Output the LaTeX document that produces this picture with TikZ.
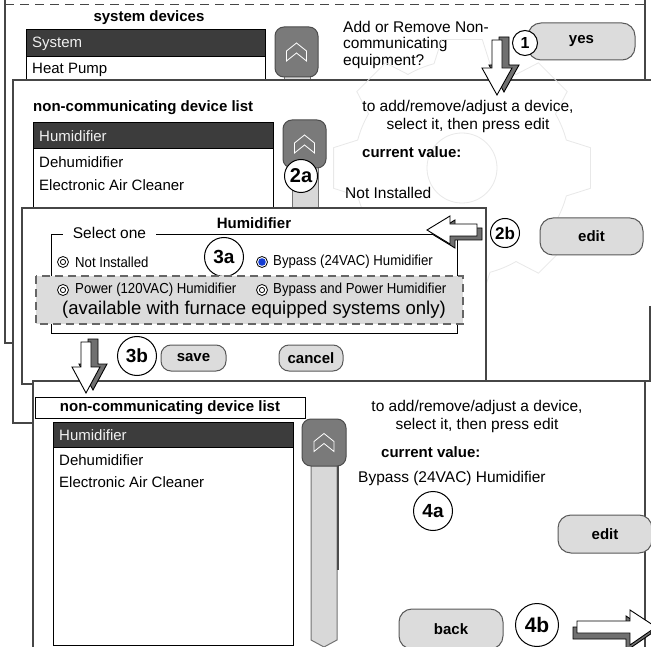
\documentclass[tikz,border=0pt]{standalone}
\usepackage{fontspec}
\setmainfont{Liberation Sans}
\newfontfamily\narrowsans{Liberation Sans}[FakeStretch=0.91]
\usepackage{tikz}
\usetikzlibrary{positioning, calc}
\definecolor{panelline}{RGB}{70,70,70}
\definecolor{selgray}{RGB}{60,60,60}
\definecolor{btngray}{RGB}{220,220,220}
\definecolor{scrollgray}{RGB}{122,122,122}
\definecolor{trackgray}{RGB}{216,216,216}
\definecolor{arrowside}{RGB}{112,112,112}
\definecolor{radioblue}{RGB}{20,60,210}

% white chevron on a scroll button
\newcommand{\upchevron}[1]{%
  \draw[chevron] ($(#1.center)+(-10,9)$) -- ++(0,-10) -- ++(10,-8) -- ++(10,8) -- ++(0,10) -- ++(-10,-8) -- cycle;}

\begin{document}
\begin{tikzpicture}[
    x=1pt, y=-1pt,
    panel/.style={draw=panelline, fill=white, line width=1.2pt},
    listbox/.style={draw=black, fill=white, line width=1pt},
    selrow/.style={draw=black, fill=selgray, line width=1pt},
    listitem/.style={anchor=west, inner sep=0pt, font=\fontsize{15}{17}\selectfont},
    selitem/.style={listitem, text=black!6},
    headtext/.style={inner sep=0pt, font=\fontsize{15}{17}\selectfont\bfseries},
    bodytext/.style={inner sep=0pt, font=\fontsize{15.5}{18}\selectfont},
    button/.style={draw=black!65, fill=btngray, rounded corners=13pt, line width=1pt, inner sep=0pt, font=\fontsize{15}{17}\selectfont\bfseries},
    badge/.style={circle, draw=black, fill=white, line width=1pt, inner sep=0pt},
    scrollbtn/.style={draw=black!70, fill=scrollgray, rounded corners=9pt, line width=1pt},
    chevron/.style={draw=white, line width=0.8pt},
    track/.style={draw=black!55, fill=trackgray, line width=1pt},
    blockface/.style={draw=black, fill=white, line width=0.9pt},
    blockside/.style={draw=black, fill=arrowside, line width=0.9pt},
    radio/.style={circle, draw=black, fill=white, line width=0.8pt, inner sep=0pt, minimum size=11pt},
    radiotext/.style={anchor=west, inner sep=0pt, font=\narrowsans\fontsize{14.5}{16}\selectfont},
    gearline/.style={draw=black!9, line width=0.8pt}
]
\path[use as bounding box] (0,0) rectangle (651,647);
\fill[white] (0,0) rectangle (651,647);
\clip (0,0) rectangle (651,647);

% system devices screen
\draw[panel] (5,-5) rectangle (645,343);
\draw[panelline, dashed, dash pattern=on 9pt off 6pt, line width=1pt] (5,5) -- (645,5);
\node[headtext] (sysdevtitle) at (149,18) {system devices};
\draw[listbox] (26,30) rectangle (265,110);
\draw[selrow] (26,30) rectangle (265,57);
\node[selitem] (sysitem) at (32,44) {System};
\node[listitem] (hpitem) at (32,70) {Heat Pump};
\draw[track] (284,70) rectangle (310,95);
\node[scrollbtn, minimum width=43pt, minimum height=50pt] (scrollA) at (296.5,52) {};
\upchevron{scrollA}
\node[bodytext, anchor=north west, align=left, font=\fontsize{15.5}{16.5}\selectfont] (addq) at (343,21) {Add or Remove Non-\\communicating\\equipment?};
\node[button, minimum width=107pt, minimum height=37pt] (yesbtn) at (581.5,41.5) {yes};
\node[badge, minimum size=25pt, font=\fontsize{16}{16}\selectfont\bfseries] (stepone) at (525,43) {1};

% device list screen
\fill[white] (13,80) rectangle (670,423);
\draw[panel] (670,80) -- (13,80) -- (13,423) -- (645,423);
\coordinate (gearc) at (462,168);
\foreach \a in {0,45,...,315}
  \draw[gearline] ($(gearc)+(\a-15:108)$) -- ($(gearc)+(\a-9:130)$) -- ($(gearc)+(\a+9:130)$) -- ($(gearc)+(\a+15:108)$) arc[start angle=\a+15, end angle=\a+30, radius=108];
\draw[gearline] (gearc) circle[radius=35];
\node[headtext, anchor=west] (ncdtitle) at (33,108) {non-communicating device list};
\draw[listbox] (33,123) rectangle (273,220);
\draw[selrow] (33,123) rectangle (273,149);
\node[selitem] (humitemA) at (39,136) {Humidifier};
\node[listitem] (dehumitemA) at (39,162) {Dehumidifier};
\node[listitem] (eacitemA) at (39,185) {Electronic Air Cleaner};
\draw[track] (292,160) rectangle (318,220);
\node[scrollbtn, minimum width=43pt, minimum height=48pt] (scrollB) at (304.5,144) {};
\upchevron{scrollB}
\node[badge, minimum size=33pt, font=\fontsize{20}{20}\selectfont\bfseries] (steptwoa) at (301,176) {2a};
\node[bodytext, align=center] (hintA) at (468,116) {to add/remove/adjust a device,\\select it, then press edit};
\node[headtext, anchor=west] (curA) at (362,152) {current value:};
\node[bodytext, anchor=west] (valA) at (345,193) {Not Installed};
\node[badge, minimum size=29pt, font=\fontsize{17}{17}\selectfont\bfseries] (steptwob) at (505,233) {2b};
\node[button, minimum width=103pt, minimum height=37pt] (editA) at (591.5,236.5) {edit};
\draw[panelline, line width=1.2pt] (650,306) -- (650,381) -- (645,381);

% humidifier dialog
\draw[panel] (22,208) rectangle (486,384);
\node[headtext] (humtitle) at (254,223) {Humidifier};
\draw[line width=1pt] (51,235) rectangle (457,333);
\node[bodytext, fill=white, inner xsep=10pt, inner ysep=2pt] (selone) at (109.5,233) {Select one};
\node[radio] (rnone) at (63,262) {};
\draw[line width=0.8pt] (rnone.center) circle[radius=2.6];
\node[radiotext] (onone) at (75,262) {Not Installed};
\node[radio] (rbypass) at (262,262) {};
\fill[radioblue] (rbypass.center) circle[radius=3.8];
\node[radiotext] (obypass) at (273,262) {Bypass (24VAC) Humidifier};
\node[badge, minimum size=39pt, font=\fontsize{19}{19}\selectfont\bfseries] (stepthreea) at (224,257) {3a};
\draw[fill=btngray, draw=black!60, dashed, dash pattern=on 8pt off 5pt, line width=1.2pt] (36,276) rectangle (463,324);
\node[radio] (rpower) at (63,290) {};
\draw[line width=0.8pt] (rpower.center) circle[radius=2.6];
\node[radiotext] (opower) at (75,290) {Power (120VAC) Humidifier};
\node[radio] (rboth) at (262,290) {};
\draw[line width=0.8pt] (rboth.center) circle[radius=2.6];
\node[radiotext] (oboth) at (273,290) {Bypass and Power Humidifier};
\node[inner sep=0pt, font=\fontsize{18.5}{20}\selectfont] (availnote) at (254,310) {(available with furnace equipped systems only)};
\node[badge, minimum size=39pt, font=\fontsize{19}{19}\selectfont\bfseries] (stepthreeb) at (137,356) {3b};
\node[button, minimum width=65pt, minimum height=26pt, rounded corners=10pt] (savebtn) at (193.5,358) {save};
\node[button, minimum width=64pt, minimum height=26pt, rounded corners=10pt] (cancelbtn) at (311,358) {cancel};
% arrow 2b
\draw[blockside] (432,234) -- (455,220) -- (455,228) -- (482,228) -- (482,240) -- (455,240) -- (455,248) -- cycle;
\draw[blockface] (427,230) -- (450,216) -- (450,224) -- (477,224) -- (477,236) -- (450,236) -- (450,244) -- cycle;

% device list screen, humidifier set
\draw[panel] (33,381) rectangle (645,670);
\node[headtext, draw=black, line width=1pt, minimum width=270pt, minimum height=21pt] (ncdtitleB) at (170,407.5) {non-communicating device list};
\draw[listbox] (53,422) rectangle (293,645);
\draw[selrow] (53,422) rectangle (293,447);
\node[selitem] (humitemB) at (59,435) {Humidifier};
\node[listitem] (dehumitemB) at (59,460) {Dehumidifier};
\node[listitem] (eacitemB) at (59,482) {Electronic Air Cleaner};
\draw[track] (311,455) -- (337,455) -- (337,640) -- (324,647) -- (311,640) -- cycle;
\draw[black!70, line width=1.5pt] (338,466) -- (338,570);
\node[scrollbtn, minimum width=44pt, minimum height=47pt] (scrollC) at (324,442.5) {};
\upchevron{scrollC}
\node[bodytext, align=center] (hintB) at (477,416.5) {to add/remove/adjust a device,\\select it, then press edit};
\node[headtext, anchor=west] (curB) at (381,452) {current value:};
\node[bodytext, anchor=west] (valB) at (358,478) {Bypass (24VAC) Humidifier};
\node[badge, minimum size=39pt, font=\fontsize{19}{19}\selectfont\bfseries] (stepfoura) at (433,511) {4a};
\node[button, minimum width=94pt, minimum height=38pt] (editB) at (605,534) {edit};
\node[button, minimum width=104pt, minimum height=40pt] (backbtn) at (451,629) {back};
\node[badge, minimum size=43pt, font=\fontsize{21}{21}\selectfont\bfseries] (stepfourb) at (537,625) {4b};
% arrow 4b
\draw[blockside] (573,627) -- (626,627) -- (626,616) -- (652,633) -- (626,651) -- (626,639) -- (573,639) -- cycle;
\draw[blockface] (577,621) -- (630,621) -- (630,610) -- (656,627) -- (630,645) -- (630,633) -- (577,633) -- cycle;

% arrow 1
\draw[blockside] (499,37) -- (509,37) -- (509,65) -- (519,65) -- (504,92) -- (489,65) -- (499,65) -- cycle;
\draw[blockface] (492,40) -- (502,40) -- (502,68) -- (512,68) -- (497,95) -- (482,68) -- (492,68) -- cycle;
% arrow 3b
\draw[blockside] (88,339) -- (98,339) -- (98,364) -- (107,364) -- (93,390) -- (79,364) -- (88,364) -- cycle;
\draw[blockface] (81,342) -- (91,342) -- (91,367) -- (100,367) -- (86,393) -- (72,367) -- (81,367) -- cycle;
\end{tikzpicture}
\end{document}
